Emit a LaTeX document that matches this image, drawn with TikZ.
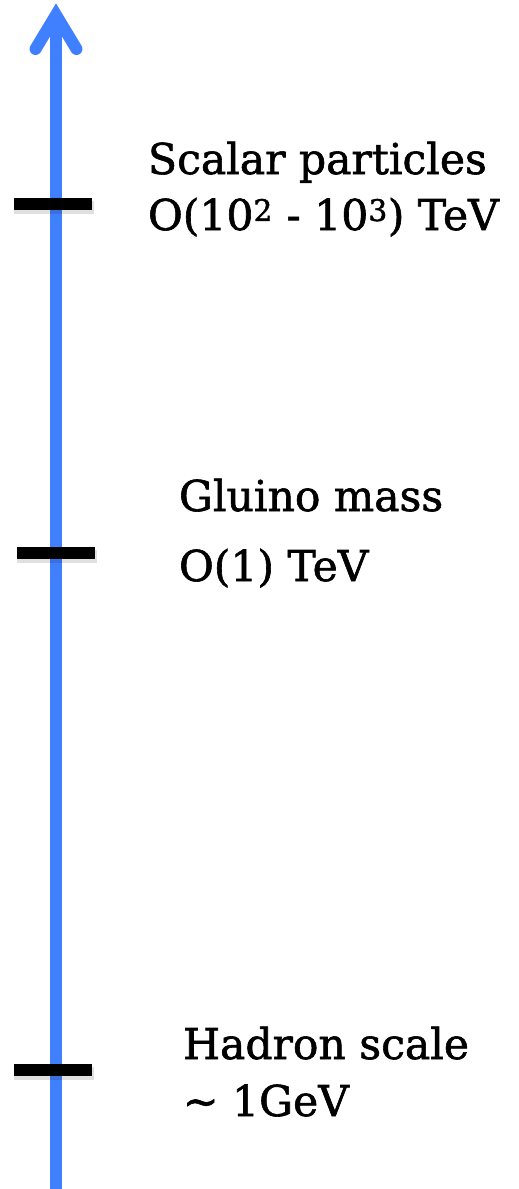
\documentclass[tikz,border=0pt]{standalone}
\usepackage{fontspec}
\setmainfont{DejaVu Serif}[FakeBold=1.4]
\definecolor{axisblue}{RGB}{64,128,255}
\begin{document}
\begin{tikzpicture}[x=1pt,y=-1pt,
  tickbar/.style={fill=black,draw=none,minimum width=78pt,minimum height=12pt,inner sep=0pt,outer sep=0pt},
  tickshadow/.style={fill=black,opacity=0.12,draw=none,minimum width=80pt,minimum height=13pt,inner sep=0pt,outer sep=0pt},
  axisline/.style={draw=axisblue,line width=12pt},
  lbl/.style={anchor=base west,inner sep=0pt,outer sep=0pt,font=\fontsize{42.5}{50}\selectfont}]
\useasboundingbox (0,0) rectangle (519,1189);
% axis
\coordinate (bot) at (56,1195);
\coordinate (apex) at (56,15);
\coordinate (armL) at (35.5,49);
\coordinate (armR) at (76.5,49);
\draw[axisline] (bot) -- (apex);
\draw[axisline,line cap=round,line join=miter] (armL) -- (apex) -- (armR);
% ticks
\node[tickshadow] (s1) at (54,207) {};
\node[tickshadow] (s2) at (57,556) {};
\node[tickshadow] (s3) at (54,1073) {};
\node[tickbar] (t1) at (53,204) {};
\node[tickbar] (t2) at (56,553) {};
\node[tickbar] (t3) at (53,1070) {};
% labels
\node[lbl] (l1a) at (148,174) {Scalar particles};
\node[lbl] (l1b) at (148,230) {O(10\textsuperscript{2} - 10\textsuperscript{3}) TeV};
\node[lbl] (l2a) at (179,511) {Gluino mass};
\node[lbl] (l2b) at (179,581) {O(1) TeV};
\node[lbl] (l3a) at (183,1059) {Hadron scale};
\node[lbl] (l3b) at (183,1116) {∼ 1GeV};
\end{tikzpicture}
\end{document}
